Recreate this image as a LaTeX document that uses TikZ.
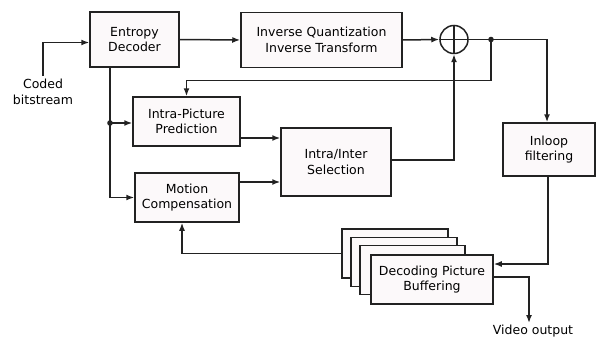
\documentclass[tikz,border=0pt]{standalone}
\usepackage{fontspec}
\setmainfont{DejaVu Sans}
\usepackage{tikz}
\usetikzlibrary{calc}
\usetikzlibrary{arrows}
\usetikzlibrary{arrows.meta}
\usetikzlibrary{positioning}
\definecolor{boxfill}{HTML}{FCF9FA}
\definecolor{boxline}{HTML}{222222}
\tikzset{>={Latex[length=8pt, width=6pt]}}
\tikzstyle{blk} = [rectangle, draw=boxline, fill=boxfill, line width=1.5pt, align=center, inner sep=0, font=\fontsize{12.5}{15.5}\selectfont]
\tikzstyle{wire} = [line width=1.5pt, draw=boxline]

\begin{document}
\begin{tikzpicture}[x=1pt, y=-1pt]
\useasboundingbox (0,0) rectangle (597,337);
% main blocks
\node [blk, minimum width=89, minimum height=55] (dec) at (134.5, 39.5) {Entropy\\Decoder};
\node [blk, minimum width=161, minimum height=55] (invq) at (321.5, 40) {Inverse Quantization\\Inverse Transform};
\node [circle, draw=boxline, line width=1.5pt, minimum size=28, inner sep=0] (sum) at (454, 39.5) {};
\draw [wire] (sum.north) -- (sum.south);
\draw [wire] (sum.west) -- (sum.east);
\node [blk, minimum width=92, minimum height=53] (loop) at (549, 149.5) {Inloop\\filtering};
\node [blk, minimum width=107, minimum height=49] (intra) at (186.5, 121.5) {Intra-Picture\\Prediction};
\node [blk, minimum width=104, minimum height=49] (mc) at (187, 197.5) {Motion\\Compensation};
\node [blk, minimum width=110, minimum height=68] (sel) at (336, 162) {Intra/Inter\\Selection};
% picture buffer stack
\node [blk, minimum width=106, minimum height=49] (dpbA) at (395, 253.5) {};
\node [blk, minimum width=106, minimum height=49] (dpbB) at (404, 262) {};
\node [blk, minimum width=105, minimum height=49] (dpbC) at (412.5, 270) {};
\node [blk, minimum width=122, minimum height=49] (dpb) at (432, 279.5) {Decoding Picture\\Buffering};
% texts
\node [draw=none, align=center, font=\fontsize{12.5}{16}\selectfont] (cb) at (43, 92) {Coded\\bitstream};
\node [draw=none, inner sep=1pt, font=\fontsize{12.5}{15}\selectfont, anchor=north] (vout) at (533, 324) {Video output};
\coordinate (jct) at (491, 39.5);
\coordinate (split) at (110, 123);
\coordinate (vo) at (529, 323);
% connectors
\draw [wire, ->] (cb.north) |- ([yshift=-3pt]dec.west);
\draw [wire, ->] (dec.east) -- (invq.west);
\draw [wire, ->] (invq.east) -- (sum.west);
\draw [wire] (sum.east) -- (jct);
\fill [boxline] (jct) circle (2.8pt);
\draw [wire, ->] (jct) -| ([xshift=-2pt]loop.north);
\draw [wire, ->] (jct) -- ++(0, 41) -| (intra.north);
\draw [wire] (dec.south -| split) -- (split);
\fill [boxline] (split) circle (2.8pt);
\draw [wire, ->] (split) -- (split -| intra.west);
\draw [wire, ->] (split) |- (mc.west);
\draw [wire, ->] ([yshift=-16.5pt]intra.east) -- ([yshift=-16.5pt]intra.east -| sel.west);
\draw [wire, ->] ([yshift=15.5pt]mc.east) -- ([yshift=15.5pt]mc.east -| sel.west);
\draw [wire, ->] ([yshift=2pt]sel.east) -| (sum.south);
\draw [wire, ->] ([xshift=-1pt]loop.south) |- ([yshift=15.5pt]dpb.east);
\draw [wire, ->] (dpbA.west) -| ([xshift=-5pt]mc.south);
\draw [wire, ->] ([yshift=2.5pt]dpb.east) -| (vo);
\end{tikzpicture}
\end{document}
